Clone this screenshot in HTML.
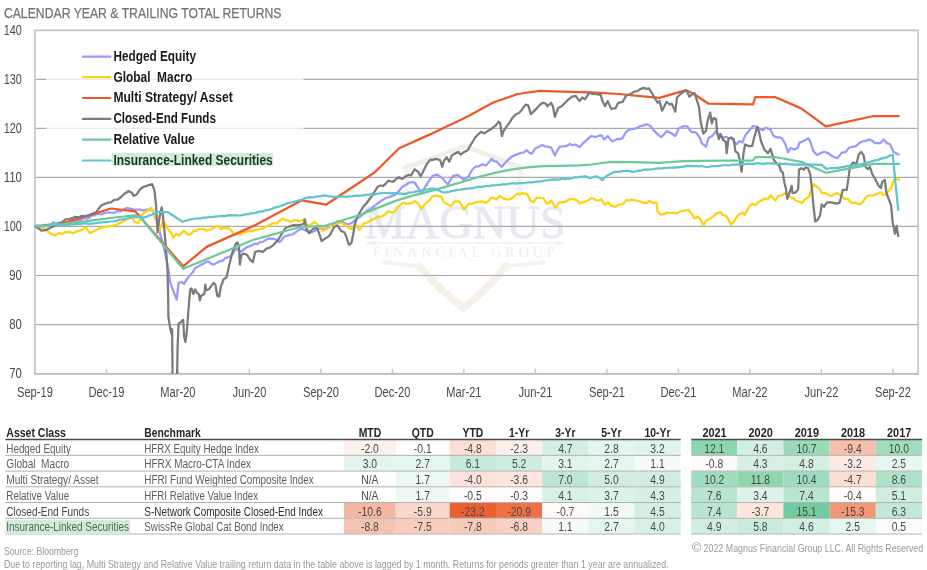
<!DOCTYPE html><html><head><meta charset="utf-8"><title>Calendar Year &amp; Trailing Total Returns</title><style>html,body{margin:0;padding:0;background:#fff;overflow:hidden}svg{display:block;filter:blur(0.3px)}text{font-family:"Liberation Sans",sans-serif}</style></head><body>
<svg width="927" height="570" viewBox="0 0 927 570">
<rect width="927" height="570" fill="#fff"/>
<text x="3.90" y="18.20" font-size="15" fill="#737373" stroke="#737373" stroke-width="0.25" textLength="277.60" lengthAdjust="spacingAndGlyphs">CALENDAR YEAR &amp; TRAILING TOTAL RETURNS</text>
<g opacity="1">
<g fill="none" stroke-linejoin="round" stroke-linecap="round"><path d="M405,168 L464.5,146.5 L521,167" stroke="#f2eee5" stroke-width="5"/><path d="M406,170 L406,192 M520,169 L520,194" stroke="#f6f3ec" stroke-width="5"/><path d="M419,266 Q440,290 463.5,308 Q487,290 506,266" stroke="#f5f1e9" stroke-width="7.5"/><path d="M383,262.5 L419,266 M506,266 L544,262.5" stroke="#f6f3ec" stroke-width="4"/></g>
<line x1="366" y1="243" x2="556" y2="243" stroke="#f3efe6" stroke-width="1.3"/><path d="M556,241 L565,243 L556,245 Z M375,241 L366,243 L375,245 Z" fill="#f4f0e8"/>
<text x="465" y="238" font-size="46" font-family="Liberation Serif" fill="#e7e9f1" text-anchor="middle" textLength="201" lengthAdjust="spacingAndGlyphs" stroke="#e7e9f1" stroke-width="0.8" style="font-family:'Liberation Serif',serif">MAGNUS</text>
<text x="463.7" y="257" font-size="14" fill="#eceef3" text-anchor="middle" textLength="182" lengthAdjust="spacing" style="font-family:'Liberation Serif',serif">FINANCIAL GROUP</text>
</g>
<line x1="34.7" y1="79.30" x2="918" y2="79.30" stroke="#ababab" stroke-width="1.2"/>
<line x1="34.7" y1="128.35" x2="918" y2="128.35" stroke="#ababab" stroke-width="1.2"/>
<line x1="34.7" y1="177.40" x2="918" y2="177.40" stroke="#ababab" stroke-width="1.2"/>
<line x1="34.7" y1="226.45" x2="918" y2="226.45" stroke="#ababab" stroke-width="1.2"/>
<line x1="34.7" y1="275.50" x2="918" y2="275.50" stroke="#ababab" stroke-width="1.2"/>
<line x1="34.7" y1="324.55" x2="918" y2="324.55" stroke="#ababab" stroke-width="1.2"/>
<path d="M34.9,373.9 L34.9,30.4 L918.1,30.4 L918.1,373.9" fill="none" stroke="#c4c4c4" stroke-width="1.6"/>
<line x1="34.1" y1="373.9" x2="918.9" y2="373.9" stroke="#b9b9b9" stroke-width="1.6"/>
<line x1="34.90" y1="368.8" x2="34.90" y2="373.5" stroke="#c4c4c4" stroke-width="1.4"/>
<line x1="106.40" y1="368.8" x2="106.40" y2="373.5" stroke="#c4c4c4" stroke-width="1.4"/>
<line x1="177.90" y1="368.8" x2="177.90" y2="373.5" stroke="#c4c4c4" stroke-width="1.4"/>
<line x1="249.40" y1="368.8" x2="249.40" y2="373.5" stroke="#c4c4c4" stroke-width="1.4"/>
<line x1="320.90" y1="368.8" x2="320.90" y2="373.5" stroke="#c4c4c4" stroke-width="1.4"/>
<line x1="392.40" y1="368.8" x2="392.40" y2="373.5" stroke="#c4c4c4" stroke-width="1.4"/>
<line x1="463.90" y1="368.8" x2="463.90" y2="373.5" stroke="#c4c4c4" stroke-width="1.4"/>
<line x1="535.40" y1="368.8" x2="535.40" y2="373.5" stroke="#c4c4c4" stroke-width="1.4"/>
<line x1="606.90" y1="368.8" x2="606.90" y2="373.5" stroke="#c4c4c4" stroke-width="1.4"/>
<line x1="678.40" y1="368.8" x2="678.40" y2="373.5" stroke="#c4c4c4" stroke-width="1.4"/>
<line x1="749.90" y1="368.8" x2="749.90" y2="373.5" stroke="#c4c4c4" stroke-width="1.4"/>
<line x1="821.40" y1="368.8" x2="821.40" y2="373.5" stroke="#c4c4c4" stroke-width="1.4"/>
<line x1="892.90" y1="368.8" x2="892.90" y2="373.5" stroke="#c4c4c4" stroke-width="1.4"/>
<clipPath id="pc"><rect x="34.7" y="30" width="884" height="344"/></clipPath>
<g clip-path="url(#pc)">
<polyline points="34.9,226.3 37.4,225.3 39.9,226.5 42.4,226.0 44.9,224.8 47.4,225.0 49.9,224.6 52.4,224.8 54.9,224.8 57.4,223.1 59.9,222.7 62.4,223.4 65.1,223.5 67.8,222.2 70.5,222.3 73.1,220.3 75.8,220.6 78.5,220.2 81.2,219.8 83.9,218.0 86.6,218.6 89.3,217.7 92.0,215.2 94.7,215.3 97.1,213.8 99.6,214.2 102.0,214.4 104.4,212.9 106.8,212.7 109.2,212.3 111.7,212.7 114.1,212.9 117.3,211.2 120.6,211.3 123.8,209.1 127.0,208.0 130.3,208.7 133.6,209.6 136.8,209.6 140.0,209.6 143.3,210.5 146.5,209.5 149.7,209.6 153.0,210.5 155.4,218.5 157.8,221.8 159.7,232.4 162.9,243.7 166.2,258.3 168.4,270.0 170.3,282.9 173.0,290.3 176.7,299.5 178.6,282.9 181.3,282.0 184.1,283.8 186.9,279.2 189.6,275.5 192.4,272.8 195.3,268.0 198.5,266.3 200.9,264.6 203.4,263.9 205.9,262.1 208.3,261.5 213.1,264.7 215.6,263.4 218.0,262.3 220.4,261.1 222.8,260.7 225.2,258.1 227.7,257.4 230.9,255.8 233.4,252.8 235.8,248.5 240.6,251.8 243.8,249.5 247.1,246.9 249.5,246.4 251.9,245.3 254.6,243.6 257.3,244.2 260.0,242.1 263.2,241.6 266.5,239.6 268.9,238.4 271.4,238.8 273.8,238.9 276.2,239.6 279.4,242.1 281.9,239.7 284.3,236.4 286.8,236.0 289.2,234.8 292.4,234.5 295.6,232.4 300.0,229.1 302.5,229.2 305.0,230.2 307.5,229.8 311.0,232.5 314.6,231.0 318.1,228.9 321.6,228.5 325.1,228.9 328.6,227.3 332.1,225.4 334.8,224.0 337.4,221.1 340.0,222.2 342.6,221.9 345.2,223.3 347.9,224.6 350.5,223.4 353.2,221.9 356.7,218.4 360.2,216.7 363.7,213.1 367.2,210.5 370.7,208.9 374.2,206.1 377.7,203.3 381.2,200.9 384.7,198.5 388.2,197.4 391.8,196.1 395.3,194.7 398.8,191.2 402.3,186.8 405.8,185.0 409.3,182.5 412.0,182.2 414.6,182.5 418.1,187.7 421.6,193.9 425.1,186.8 428.6,181.6 432.1,176.3 434.8,175.3 437.4,174.6 440.1,176.6 442.9,178.6 445.4,182.0 447.8,184.3 450.3,180.2 452.8,176.1 457.5,174.9 460.8,177.3 464.0,180.2 466.4,178.2 468.8,176.2 471.2,171.2 473.7,168.1 476.1,166.4 478.5,166.5 482.6,164.2 486.0,165.5 488.7,162.6 491.4,158.9 494.0,161.2 496.7,161.6 499.3,164.4 501.9,166.8 504.5,163.5 507.2,160.7 510.7,157.4 514.2,155.4 517.7,154.1 521.2,152.8 523.9,152.5 526.5,150.2 529.1,152.5 531.8,153.7 535.3,148.4 538.8,146.7 542.3,144.9 544.9,146.5 547.5,146.7 551.1,147.5 554.9,155.4 557.3,150.5 559.8,146.7 563.3,146.3 566.8,145.8 570.0,144.0 572.5,145.2 575.0,144.5 579.6,147.0 584.0,142.3 587.5,139.4 591.1,136.1 593.5,136.5 596.0,137.0 598.8,135.7 601.6,135.3 604.0,139.5 607.7,136.1 612.1,141.4 614.8,140.2 617.4,138.8 620.0,139.3 622.6,137.9 626.1,131.8 629.7,129.5 633.2,129.1 636.7,128.1 640.2,126.0 643.2,125.7 646.3,124.2 650.7,126.0 653.4,130.1 656.0,132.6 658.6,135.3 661.2,137.0 663.9,134.6 666.5,130.9 669.1,132.2 671.8,133.5 675.3,136.1 678.8,128.2 681.4,127.2 684.0,126.0 687.5,126.5 691.1,131.8 693.7,132.1 696.3,132.6 699.8,137.9 701.6,143.2 706.0,146.7 708.6,137.9 712.1,136.1 715.6,131.5 719.6,136.5 724.0,137.4 726.6,136.8 729.3,138.7 731.9,138.2 736.3,144.4 739.8,140.9 742.5,142.6 745.1,135.6 748.6,131.2 753.0,126.0 757.4,127.2 760.0,128.9 762.6,130.4 766.1,127.7 770.5,129.5 773.2,135.6 776.7,137.4 779.3,137.2 781.9,138.2 785.4,144.4 788.1,152.3 790.7,147.9 794.2,149.6 797.7,147.9 799.5,142.6 803.9,140.9 808.2,138.2 810.0,140.9 813.5,151.4 817.0,154.9 820.0,153.4 824.3,151.8 828.6,153.4 831.9,156.1 834.6,157.2 837.3,158.3 841.6,152.9 845.9,151.8 849.1,147.5 852.4,146.9 855.6,146.4 859.9,142.6 862.6,141.5 865.3,141.0 869.6,139.4 872.3,140.9 875.0,143.1 877.7,143.2 880.4,143.1 883.6,139.4 886.9,143.1 890.1,144.2 893.4,151.8 896.0,153.4 898.7,154.5" fill="none" stroke="#9999ff" stroke-width="2.25" stroke-linejoin="round" stroke-linecap="round"/>
<polyline points="34.9,226.3 37.6,227.8 40.3,228.3 43.0,228.0 47.8,231.5 51.0,233.9 55.1,235.5 59.1,233.1 62.4,233.9 64.8,232.2 67.2,232.3 69.7,231.9 72.1,233.1 74.5,232.8 76.9,231.2 79.3,231.0 81.8,229.9 85.8,227.4 89.9,233.1 94.7,230.7 97.2,229.8 99.6,228.3 102.8,227.1 106.0,226.6 109.2,226.4 112.5,225.8 115.8,224.8 119.0,223.4 121.5,222.4 123.9,221.0 128.7,218.5 131.9,216.9 134.4,221.8 138.4,223.4 141.7,215.3 144.1,212.6 146.5,211.3 148.9,209.5 151.4,208.0 153.0,212.1 156.5,219.4 159.7,230.7 162.9,221.0 165.4,224.3 167.8,229.1 171.0,232.4 173.5,238.0 175.9,234.0 179.1,235.6 181.6,232.9 184.0,230.7 186.4,233.2 188.8,234.8 191.2,233.7 193.7,230.7 196.1,230.8 198.5,229.1 200.9,229.0 203.4,228.8 206.6,230.7 209.1,229.8 211.5,229.1 214.8,227.0 218.0,225.9 221.2,229.1 223.6,227.8 226.0,228.3 228.4,228.2 230.9,229.9 234.1,234.3 237.3,234.1 240.6,234.0 243.8,232.4 247.1,231.6 249.8,230.8 252.5,231.3 255.2,229.9 257.9,229.4 260.6,229.0 263.3,228.3 266.5,226.2 269.7,225.1 272.9,223.3 276.2,223.5 279.4,221.0 282.7,218.6 285.9,220.2 288.4,220.7 290.8,221.8 294.0,220.2 297.0,220.1 300.0,221.4 304.0,219.3 305.8,223.7 309.3,225.4 312.0,223.7 314.6,221.9 318.0,225.0 322.5,230.7 326.8,228.9 329.5,227.7 332.1,224.6 335.6,224.0 339.1,222.8 342.6,223.5 346.1,225.4 348.8,227.9 351.4,228.9 355.8,224.6 359.3,229.8 363.7,223.7 367.2,222.5 370.7,220.2 374.2,218.9 377.7,216.7 381.2,216.6 384.7,214.9 388.2,211.4 390.9,212.4 393.5,212.3 396.1,209.8 398.8,206.1 401.4,204.1 404.0,202.6 406.5,204.0 409.0,203.5 411.8,203.1 414.6,200.9 418.0,203.5 421.6,208.8 424.2,205.0 426.8,202.6 429.5,200.1 432.1,196.5 436.0,195.6 438.6,196.4 441.3,196.4 443.8,202.1 447.8,204.5 451.0,206.1 454.3,201.7 456.7,201.4 459.1,201.3 461.6,205.4 464.0,209.4 466.4,206.5 468.8,203.7 472.1,203.9 475.3,202.4 478.6,201.9 481.8,201.3 485.8,202.9 488.6,200.9 491.5,197.5 493.9,198.3 496.3,199.6 499.6,195.9 504.4,198.8 507.7,199.6 510.9,198.8 514.1,196.4 517.4,193.7 519.8,194.2 522.2,193.2 524.7,193.5 527.1,194.0 530.3,200.5 533.6,202.1 536.8,197.5 540.0,197.9 543.3,198.0 546.5,203.7 549.0,202.9 551.4,200.5 555.4,207.7 559.4,202.4 562.6,202.3 565.9,201.3 568.3,200.0 570.8,198.8 574.9,199.3 577.3,200.8 579.7,203.4 582.2,202.4 584.6,202.1 587.8,200.6 591.0,198.3 593.5,198.5 595.9,200.1 598.8,200.5 601.6,199.2 604.8,205.0 608.0,202.1 610.5,205.3 615.3,206.9 617.8,205.2 620.2,204.5 623.4,203.7 626.6,200.1 629.0,200.7 631.5,199.6 636.3,200.5 638.8,200.9 641.2,202.1 644.4,202.9 646.8,202.8 649.3,200.8 652.5,202.9 656.6,202.4 657.4,211.0 660.6,214.7 663.9,214.2 667.1,212.6 670.4,213.0 673.6,212.6 676.8,213.4 680.0,211.5 682.5,211.0 684.9,210.5 688.1,209.8 691.4,213.4 694.6,218.3 697.8,216.6 700.3,219.1 703.5,225.5 705.9,220.7 708.3,219.5 710.8,218.3 713.6,216.2 716.5,213.4 720.5,212.1 722.9,215.0 726.2,215.8 727.8,218.3 731.0,224.7 734.3,220.7 738.3,215.0 742.4,212.6 744.8,215.0 748.8,206.9 752.1,203.7 755.3,205.3 758.5,202.1 761.0,200.8 763.4,199.2 765.8,198.6 768.3,198.8 770.7,195.3 773.0,198.0 775.5,200.5 778.0,196.4 782.8,194.8 785.2,193.2 787.7,195.6 790.9,197.2 793.3,198.3 795.8,200.5 799.0,201.7 802.2,202.9 805.5,198.8 808.7,197.2 811.1,190.7 813.6,184.3 816.8,186.7 820.0,189.1 821.7,193.2 825.7,193.2 829.7,195.6 832.2,195.7 834.6,194.0 837.8,193.2 841.1,195.6 844.3,198.8 847.5,198.8 850.8,202.4 853.2,202.9 855.6,202.9 859.5,204.5 862.7,202.1 865.8,197.4 868.2,195.6 870.6,195.5 873.8,195.3 876.9,193.9 880.8,192.3 883.2,195.0 885.6,195.0 887.9,191.9 891.1,187.9 893.5,180.8 895.8,177.6 899.0,180.0" fill="none" stroke="#ffd20f" stroke-width="2.25" stroke-linejoin="round" stroke-linecap="round"/>
<polyline points="34.9,226.3 62.4,223.4 94.7,213.7 110.9,208.5 135.2,211.3 183.2,266.3 206.6,246.9 253.6,225.9 301.9,200.3 326.0,204.7 374.2,172.8 399.2,148.2 430.0,134.4 468.6,116.0 493.2,102.5 517.7,94.0 539.6,90.9 570.0,91.9 591.1,92.3 619.1,94.0 640.2,96.1 659.5,97.9 685.8,90.2 692.8,93.2 708.6,103.7 753.0,104.4 755.3,97.0 774.9,97.0 801.2,108.4 825.8,126.3 873.9,116.0 898.7,116.0" fill="none" stroke="#ee5827" stroke-width="2.25" stroke-linejoin="round" stroke-linecap="round"/>
<polyline points="34.9,226.3 38.1,228.0 41.3,230.7 43.8,230.4 46.2,229.9 51.0,227.4 54.2,225.9 57.5,225.0 60.0,223.6 62.4,221.8 65.6,219.4 68.8,219.1 72.1,218.2 75.3,216.9 78.5,217.4 81.8,215.8 85.0,216.1 88.2,215.7 91.5,214.0 96.3,212.1 98.8,208.4 101.2,205.6 104.4,204.0 107.7,202.7 110.9,202.4 114.1,199.9 117.3,199.7 120.6,197.5 123.9,194.3 128.7,191.0 131.9,192.7 133.6,195.9 136.8,194.3 140.0,189.4 143.3,187.0 148.1,185.4 152.2,184.2 154.6,191.0 156.2,207.2 157.5,232.4 159.7,216.2 161.7,207.3 163.0,216.2 164.6,232.4 166.2,251.8 167.5,270.0 168.1,294.0 168.4,317.0 170.3,329.0 171.7,334.5 172.1,329.0 172.6,379.0 177.0,379.0 177.6,347.4 178.6,323.4 180.4,322.5 182.2,320.7 183.2,319.8 184.1,336.3 185.4,341.9 186.9,330.8 188.7,306.9 190.2,289.3 191.5,288.4 193.3,294.0 195.1,289.3 197.0,293.0 198.8,294.0 199.8,300.4 201.2,295.8 204.4,294.0 205.3,284.7 206.2,290.3 209.0,289.3 210.8,286.6 213.6,282.9 215.4,284.7 217.3,295.8 219.1,296.7 220.9,286.6 223.7,279.2 226.5,277.4 229.3,264.7 232.5,251.8 235.8,243.7 237.4,242.4 239.0,246.9 239.8,264.7 241.4,255.0 243.9,253.4 247.1,255.0 250.3,259.9 252.8,262.3 255.2,251.8 258.4,251.0 260.9,251.3 263.3,251.8 266.5,248.5 269.8,247.6 273.0,245.3 275.4,242.9 277.8,240.5 281.1,234.8 285.9,227.5 288.4,227.0 290.8,225.9 293.9,225.0 297.0,225.4 300.5,224.8 304.0,223.7 304.9,219.3 306.7,230.7 309.3,233.3 312.8,228.9 316.3,227.2 318.9,232.5 321.6,241.2 325.1,238.6 327.8,237.1 330.4,234.2 333.9,227.2 337.4,225.4 340.9,230.7 344.4,232.5 346.1,236.0 348.8,244.7 351.4,243.0 353.2,234.2 354.9,223.7 358.4,214.9 361.0,210.5 363.7,206.1 366.3,203.5 368.9,200.0 371.5,196.4 374.2,192.1 377.7,186.8 380.4,185.5 383.0,186.0 385.6,183.9 388.2,180.7 390.9,181.3 393.5,181.6 396.1,179.0 398.8,177.2 402.3,178.9 405.8,176.3 408.5,174.9 411.1,175.4 414.6,169.3 418.1,171.9 420.7,176.3 424.2,169.3 426.8,164.0 430.4,159.6 433.0,159.9 435.6,158.8 440.0,160.0 442.3,166.8 444.0,160.7 446.7,157.2 449.3,161.6 451.9,155.4 454.6,153.7 458.1,151.9 460.7,154.6 464.2,151.9 467.7,150.2 471.2,144.0 475.6,137.0 478.2,134.3 480.9,131.8 484.4,133.5 487.9,130.9 490.5,129.6 493.2,127.4 495.8,125.4 498.4,121.8 500.2,123.0 501.9,136.1 503.7,130.9 507.2,125.6 509.9,122.1 512.5,117.7 516.0,114.2 518.6,113.3 521.2,110.7 525.6,104.6 528.2,105.4 530.9,114.2 533.5,111.6 537.0,108.1 539.6,105.2 542.3,102.8 545.8,103.7 547.5,106.3 551.1,102.8 552.9,106.3 554.9,116.8 558.1,108.1 561.6,106.3 565.1,102.8 568.6,99.3 572.1,96.7 575.6,95.8 579.6,101.1 582.3,97.5 584.9,99.3 589.3,92.6 592.0,93.9 594.6,94.0 597.7,94.3 600.7,94.9 602.5,101.1 605.1,106.3 607.7,101.1 611.2,108.9 615.6,108.1 618.2,102.8 622.6,101.9 626.1,95.8 630.5,94.0 634.9,91.4 637.5,91.1 640.2,89.1 643.7,87.9 646.3,88.9 648.9,88.4 652.5,94.0 656.0,100.2 657.7,102.8 659.5,100.9 662.1,110.7 666.5,101.9 670.0,104.6 671.8,103.7 675.3,111.6 677.0,97.5 680.5,94.0 684.0,91.4 686.7,90.5 689.3,96.7 692.8,94.0 694.6,93.2 696.3,98.4 699.0,107.2 700.7,122.1 703.3,133.5 706.0,130.9 707.7,120.4 710.2,112.6 711.8,123.3 713.5,118.1 716.1,119.0 717.0,131.2 718.8,139.1 720.5,133.9 723.2,140.0 725.8,141.8 726.7,153.2 728.4,139.1 731.1,137.4 733.7,139.1 735.4,151.4 738.1,153.2 739.8,160.2 741.6,171.6 743.3,154.9 745.1,144.4 748.6,146.1 752.1,146.1 754.7,135.6 757.4,126.8 759.1,132.1 760.9,140.9 764.4,149.6 767.9,153.2 770.5,148.8 772.3,154.9 774.0,160.2 776.7,163.7 779.3,165.4 781.2,171.3 782.8,172.5 784.4,182.7 786.0,189.1 787.3,198.8 789.3,193.2 791.7,185.9 792.5,193.2 795.8,192.4 798.2,189.1 799.0,169.7 801.4,168.1 803.9,169.7 805.5,167.3 808.0,168.0 810.3,174.6 811.9,189.1 813.6,206.9 815.2,221.5 817.6,219.9 820.0,215.8 821.7,204.5 824.1,206.9 826.5,202.9 829.7,202.1 833.0,202.9 836.2,203.7 839.4,202.9 841.1,197.2 842.7,189.9 846.7,189.9 848.3,179.4 850.0,166.5 853.2,162.4 856.3,164.2 858.7,154.7 861.1,151.9 863.4,154.7 865.8,167.4 868.2,169.0 870.0,167.0 872.1,173.7 875.3,179.2 878.5,185.5 880.8,187.9 882.4,181.6 884.8,180.0 886.4,192.7 888.7,199.0 891.1,205.3 892.7,222.7 895.0,233.7 896.6,225.8 898.2,236.1" fill="none" stroke="#7b7b7b" stroke-width="2.25" stroke-linejoin="round" stroke-linecap="round"/>
<polyline points="34.9,226.3 62.4,224.2 94.7,220.2 119.0,217.0 135.2,215.3 140.0,217.0 183.2,268.8 253.0,240.0 300.0,227.0 325.1,225.8 342.6,220.2 360.2,214.9 377.7,207.9 395.3,200.9 412.8,195.6 430.4,191.2 446.2,186.7 462.4,181.8 478.5,177.0 494.7,172.9 510.9,169.7 527.1,167.3 543.3,166.1 559.4,165.8 580.0,165.3 591.0,164.5 610.5,161.9 634.7,162.1 659.0,162.8 684.0,161.1 720.0,160.6 753.0,160.5 755.3,157.0 774.9,157.0 801.2,161.9 825.8,172.8 851.6,168.2 873.7,163.9 899.0,163.9" fill="none" stroke="#6cc99a" stroke-width="2.25" stroke-linejoin="round" stroke-linecap="round"/>
<polyline points="34.9,226.3 37.3,226.1 39.7,226.0 42.1,226.2 44.6,226.0 47.0,226.0 49.4,226.3 53.5,222.1 57.5,225.0 60.1,224.8 62.8,225.1 65.4,224.9 68.0,224.8 70.6,224.3 73.2,224.4 75.9,224.1 78.5,224.2 81.0,223.8 83.5,223.5 86.1,223.4 88.6,223.8 91.1,223.6 93.6,223.4 96.2,223.2 98.7,222.5 101.2,222.6 103.6,222.2 106.1,222.2 108.5,222.0 110.9,221.5 113.6,221.3 116.3,220.8 119.0,219.7 121.6,219.6 124.3,219.1 127.0,218.5 129.7,218.0 132.5,217.2 135.2,217.0 137.9,217.2 140.6,217.1 143.3,217.7 146.5,216.8 149.7,215.3 152.5,214.5 155.3,213.2 158.1,212.1 160.5,211.9 162.9,212.4 165.4,212.2 167.8,212.1 171.1,214.5 174.3,216.2 177.0,218.3 179.7,219.9 182.4,221.8 185.1,220.9 187.8,220.3 190.5,219.4 193.2,219.0 195.9,218.5 198.6,218.3 201.2,218.4 203.9,217.5 206.6,217.5 209.2,216.9 211.9,217.1 214.5,216.5 217.1,216.5 219.8,216.2 222.4,215.8 225.1,216.1 227.7,215.4 230.3,215.2 232.9,215.3 235.4,215.2 238.0,215.5 240.6,215.4 243.1,214.8 245.6,214.4 248.2,214.2 250.7,213.4 253.2,213.2 255.7,213.0 258.3,211.9 260.8,211.4 263.3,211.3 266.0,210.3 268.7,209.9 271.4,209.0 274.0,207.9 276.7,207.2 279.4,206.5 282.0,205.3 284.7,204.5 287.4,203.2 290.0,202.6 292.5,202.1 295.0,201.5 297.5,200.9 300.0,200.0 302.5,199.5 305.0,198.0 307.5,197.7 310.0,197.2 312.5,197.4 315.0,196.9 317.6,196.3 320.1,196.3 322.6,195.7 325.1,195.3 328.0,196.1 331.0,196.3 333.9,197.0 336.4,196.7 338.9,196.8 341.4,196.5 343.9,196.6 346.4,197.0 348.9,196.4 351.4,196.5 353.9,195.9 356.4,195.6 358.9,195.5 361.5,195.7 364.0,195.1 366.5,194.8 369.0,194.7 371.5,194.1 374.0,194.6 376.5,193.9 379.0,193.5 381.5,193.1 384.0,192.9 386.5,193.0 389.0,192.9 391.5,193.4 394.0,193.1 396.5,193.1 399.0,193.6 401.5,193.6 404.0,193.9 406.5,193.8 409.0,192.6 411.5,192.4 414.1,192.1 416.6,191.3 419.1,191.3 421.6,190.4 424.1,190.0 426.5,189.5 429.0,189.2 431.4,188.6 433.9,188.6 436.9,189.8 439.9,190.9 442.9,192.4 445.8,192.3 448.6,191.8 451.4,191.1 454.3,190.7 457.0,189.9 459.7,189.7 462.4,189.3 465.1,188.9 467.8,188.5 470.5,188.3 473.2,188.2 475.9,187.2 478.6,186.7 481.2,187.0 483.9,186.4 486.6,185.9 489.3,186.0 492.0,185.3 494.7,185.4 497.4,185.0 500.1,184.8 502.8,184.3 505.5,184.3 508.2,183.9 510.9,183.4 513.6,183.3 516.3,183.6 519.0,183.1 521.7,183.2 524.4,183.0 527.1,182.3 529.8,182.4 532.5,182.3 535.2,181.8 537.9,181.6 540.6,181.4 543.3,180.8 546.0,180.5 548.7,180.2 551.4,179.7 554.1,179.3 556.8,179.7 559.5,179.5 562.1,178.6 564.8,179.2 567.5,178.6 570.1,178.6 572.6,178.0 575.2,177.2 577.7,177.5 580.3,176.6 582.8,176.9 585.4,176.2 589.4,178.1 592.6,177.3 595.9,176.2 599.1,177.8 602.4,180.2 604.8,177.5 607.2,175.4 610.5,173.9 613.7,172.1 616.1,171.9 618.5,171.7 621.0,171.6 623.4,171.0 626.2,170.9 629.0,171.0 631.9,171.9 634.7,171.7 637.4,170.7 640.1,170.9 642.8,170.0 645.5,169.4 648.2,169.7 650.9,169.4 653.6,169.2 656.3,168.7 659.0,168.4 661.7,168.5 664.4,167.8 667.1,168.0 669.8,167.5 672.5,167.8 675.2,167.3 677.9,167.3 680.6,166.9 683.3,166.7 686.0,166.1 688.7,165.9 691.4,166.1 693.8,166.2 696.2,166.0 698.7,166.3 701.1,166.0 705.9,167.0 708.7,166.8 711.5,166.2 714.4,166.1 717.2,166.2 720.0,165.7 722.5,165.5 725.0,165.0 727.5,165.5 730.0,165.3 732.5,164.5 735.1,164.7 737.6,164.4 740.1,164.6 742.6,164.0 745.1,164.0 747.7,163.7 750.4,163.8 753.0,164.2 755.6,163.4 758.2,163.3 760.9,163.7 763.5,163.8 766.1,163.4 768.8,163.3 771.4,163.3 774.0,163.7 776.7,163.8 779.3,163.3 781.9,164.1 784.5,163.7 787.2,163.9 789.8,164.5 792.4,164.3 795.1,164.7 797.7,164.6 800.3,164.3 803.0,164.9 805.6,164.3 808.2,164.3 810.9,164.6 813.5,164.5 816.1,164.6 818.8,164.9 821.4,164.6 824.0,167.0 826.5,169.0 829.0,168.3 831.5,168.2 834.0,168.1 836.6,167.8 839.1,167.7 841.6,167.2 844.1,166.8 846.6,166.2 849.1,165.9 851.6,165.8 854.2,165.5 856.9,164.6 859.5,164.4 862.1,164.1 864.8,163.2 867.4,162.6 870.0,162.0 872.7,161.2 875.3,160.3 877.9,160.0 880.6,158.9 883.2,158.2 886.4,157.4 889.5,155.7 892.7,154.7 898.2,210.0" fill="none" stroke="#5fc4cc" stroke-width="2.25" stroke-linejoin="round" stroke-linecap="round"/>
</g>
<rect x="46.2" y="40" width="257.3" height="131" fill="#fff" fill-opacity="0.75"/>
<rect x="111.8" y="153.1" width="161.4" height="12.6" fill="#d2ecdb"/>
<line x1="83" y1="56.7" x2="110.4" y2="56.7" stroke="#9999ff" stroke-width="2.2" stroke-linecap="round"/>
<text x="113.40" y="61.00" font-size="14" font-weight="bold" fill="#1a1a1a" textLength="82.60" lengthAdjust="spacingAndGlyphs">Hedged Equity</text>
<line x1="83" y1="77.2" x2="110.4" y2="77.2" stroke="#ffd20f" stroke-width="2.2" stroke-linecap="round"/>
<text x="113.40" y="81.50" font-size="14" font-weight="bold" fill="#1a1a1a" textLength="78.80" lengthAdjust="spacingAndGlyphs">Global &#160;Macro</text>
<line x1="83" y1="98" x2="110.4" y2="98" stroke="#ee5827" stroke-width="2.2" stroke-linecap="round"/>
<text x="113.40" y="102.30" font-size="14" font-weight="bold" fill="#1a1a1a" textLength="119.30" lengthAdjust="spacingAndGlyphs">Multi Strategy/ Asset</text>
<line x1="83" y1="118.9" x2="110.4" y2="118.9" stroke="#7b7b7b" stroke-width="2.2" stroke-linecap="round"/>
<text x="113.40" y="123.20" font-size="14" font-weight="bold" fill="#1a1a1a" textLength="102.50" lengthAdjust="spacingAndGlyphs">Closed-End Funds</text>
<line x1="83" y1="139.6" x2="110.4" y2="139.6" stroke="#6cc99a" stroke-width="2.2" stroke-linecap="round"/>
<text x="113.40" y="143.90" font-size="14" font-weight="bold" fill="#1a1a1a" textLength="81.40" lengthAdjust="spacingAndGlyphs">Relative Value</text>
<line x1="83" y1="160.5" x2="110.4" y2="160.5" stroke="#5fc4cc" stroke-width="2.2" stroke-linecap="round"/>
<text x="113.40" y="164.80" font-size="14" font-weight="bold" fill="#1e3327" textLength="159.30" lengthAdjust="spacingAndGlyphs">Insurance-Linked Securities</text>
<text x="21.90" y="35.05" font-size="14" fill="#4a4a4a" text-anchor="end" textLength="18.20" lengthAdjust="spacingAndGlyphs">140</text>
<text x="21.90" y="84.10" font-size="14" fill="#4a4a4a" text-anchor="end" textLength="18.20" lengthAdjust="spacingAndGlyphs">130</text>
<text x="21.90" y="133.15" font-size="14" fill="#4a4a4a" text-anchor="end" textLength="18.20" lengthAdjust="spacingAndGlyphs">120</text>
<text x="21.90" y="182.20" font-size="14" fill="#4a4a4a" text-anchor="end" textLength="18.20" lengthAdjust="spacingAndGlyphs">110</text>
<text x="21.90" y="231.25" font-size="14" fill="#4a4a4a" text-anchor="end" textLength="18.20" lengthAdjust="spacingAndGlyphs">100</text>
<text x="21.90" y="280.30" font-size="14" fill="#4a4a4a" text-anchor="end" textLength="12.60" lengthAdjust="spacingAndGlyphs">90</text>
<text x="21.90" y="329.35" font-size="14" fill="#4a4a4a" text-anchor="end" textLength="12.60" lengthAdjust="spacingAndGlyphs">80</text>
<text x="21.90" y="378.40" font-size="14" fill="#4a4a4a" text-anchor="end" textLength="12.60" lengthAdjust="spacingAndGlyphs">70</text>
<text x="34.90" y="396.80" font-size="14" fill="#4a4a4a" text-anchor="middle" textLength="35.89" lengthAdjust="spacingAndGlyphs">Sep-19</text>
<text x="106.40" y="396.80" font-size="14" fill="#4a4a4a" text-anchor="middle" textLength="35.88" lengthAdjust="spacingAndGlyphs">Dec-19</text>
<text x="177.90" y="396.80" font-size="14" fill="#4a4a4a" text-anchor="middle" textLength="35.25" lengthAdjust="spacingAndGlyphs">Mar-20</text>
<text x="249.40" y="396.80" font-size="14" fill="#4a4a4a" text-anchor="middle" textLength="34.03" lengthAdjust="spacingAndGlyphs">Jun-20</text>
<text x="320.90" y="396.80" font-size="14" fill="#4a4a4a" text-anchor="middle" textLength="35.89" lengthAdjust="spacingAndGlyphs">Sep-20</text>
<text x="392.40" y="396.80" font-size="14" fill="#4a4a4a" text-anchor="middle" textLength="35.88" lengthAdjust="spacingAndGlyphs">Dec-20</text>
<text x="463.90" y="396.80" font-size="14" fill="#4a4a4a" text-anchor="middle" textLength="35.25" lengthAdjust="spacingAndGlyphs">Mar-21</text>
<text x="535.40" y="396.80" font-size="14" fill="#4a4a4a" text-anchor="middle" textLength="34.03" lengthAdjust="spacingAndGlyphs">Jun-21</text>
<text x="606.90" y="396.80" font-size="14" fill="#4a4a4a" text-anchor="middle" textLength="35.89" lengthAdjust="spacingAndGlyphs">Sep-21</text>
<text x="678.40" y="396.80" font-size="14" fill="#4a4a4a" text-anchor="middle" textLength="35.88" lengthAdjust="spacingAndGlyphs">Dec-21</text>
<text x="749.90" y="396.80" font-size="14" fill="#4a4a4a" text-anchor="middle" textLength="35.25" lengthAdjust="spacingAndGlyphs">Mar-22</text>
<text x="821.40" y="396.80" font-size="14" fill="#4a4a4a" text-anchor="middle" textLength="34.03" lengthAdjust="spacingAndGlyphs">Jun-22</text>
<text x="892.90" y="396.80" font-size="14" fill="#4a4a4a" text-anchor="middle" textLength="35.89" lengthAdjust="spacingAndGlyphs">Sep-22</text>
<text x="6.30" y="436.70" font-size="12" font-weight="bold" fill="#262626" textLength="59.60" lengthAdjust="spacingAndGlyphs">Asset Class</text>
<text x="144.30" y="436.70" font-size="12" font-weight="bold" fill="#262626" textLength="56.40" lengthAdjust="spacingAndGlyphs">Benchmark</text>
<text x="369.90" y="436.70" font-size="12" font-weight="bold" fill="#262626" text-anchor="middle" textLength="22.51" lengthAdjust="spacingAndGlyphs">MTD</text>
<text x="422.75" y="436.70" font-size="12" font-weight="bold" fill="#262626" text-anchor="middle" textLength="21.94" lengthAdjust="spacingAndGlyphs">QTD</text>
<text x="472.85" y="436.70" font-size="12" font-weight="bold" fill="#262626" text-anchor="middle" textLength="20.78" lengthAdjust="spacingAndGlyphs">YTD</text>
<text x="519.10" y="436.70" font-size="12" font-weight="bold" fill="#262626" text-anchor="middle" textLength="20.22" lengthAdjust="spacingAndGlyphs">1-Yr</text>
<text x="565.40" y="436.70" font-size="12" font-weight="bold" fill="#262626" text-anchor="middle" textLength="20.22" lengthAdjust="spacingAndGlyphs">3-Yr</text>
<text x="611.45" y="436.70" font-size="12" font-weight="bold" fill="#262626" text-anchor="middle" textLength="20.22" lengthAdjust="spacingAndGlyphs">5-Yr</text>
<text x="657.50" y="436.70" font-size="12" font-weight="bold" fill="#262626" text-anchor="middle" textLength="26.00" lengthAdjust="spacingAndGlyphs">10-Yr</text>
<text x="714.55" y="436.70" font-size="12" font-weight="bold" fill="#262626" text-anchor="middle" textLength="24.29" lengthAdjust="spacingAndGlyphs">2021</text>
<text x="760.65" y="436.70" font-size="12" font-weight="bold" fill="#262626" text-anchor="middle" textLength="24.29" lengthAdjust="spacingAndGlyphs">2020</text>
<text x="806.85" y="436.70" font-size="12" font-weight="bold" fill="#262626" text-anchor="middle" textLength="24.29" lengthAdjust="spacingAndGlyphs">2019</text>
<text x="853.05" y="436.70" font-size="12" font-weight="bold" fill="#262626" text-anchor="middle" textLength="24.29" lengthAdjust="spacingAndGlyphs">2018</text>
<text x="899.20" y="436.70" font-size="12" font-weight="bold" fill="#262626" text-anchor="middle" textLength="24.29" lengthAdjust="spacingAndGlyphs">2017</text>
<rect x="344.0" y="439.80" width="51.8" height="15.25" fill="#fdf1ed"/>
<rect x="395.8" y="439.80" width="53.9" height="15.25" fill="#fffefe"/>
<rect x="449.7" y="439.80" width="46.3" height="15.25" fill="#fbded5"/>
<rect x="496.0" y="439.80" width="46.2" height="15.25" fill="#fdefeb"/>
<rect x="542.2" y="439.80" width="46.4" height="15.25" fill="#d2efe1"/>
<rect x="588.6" y="439.80" width="45.7" height="15.25" fill="#e4f6ed"/>
<rect x="634.3" y="439.80" width="46.4" height="15.25" fill="#e1f4ea"/>
<rect x="691.2" y="439.80" width="46.1" height="15.25" fill="#8cd6b1"/>
<rect x="737.3" y="439.80" width="46.1" height="15.25" fill="#d3efe1"/>
<rect x="783.4" y="439.80" width="46.3" height="15.25" fill="#9adbba"/>
<rect x="829.7" y="439.80" width="46.1" height="15.25" fill="#f7bfac"/>
<rect x="875.8" y="439.80" width="46.2" height="15.25" fill="#a0ddbf"/>
<rect x="344.0" y="455.65" width="51.8" height="15.13" fill="#e3f5ec"/>
<rect x="395.8" y="455.65" width="53.9" height="15.13" fill="#e5f6ee"/>
<rect x="449.7" y="455.65" width="46.3" height="15.13" fill="#c5ead8"/>
<rect x="496.0" y="455.65" width="46.2" height="15.13" fill="#ceedde"/>
<rect x="542.2" y="455.65" width="46.4" height="15.13" fill="#e2f5eb"/>
<rect x="588.6" y="455.65" width="45.7" height="15.13" fill="#e5f6ee"/>
<rect x="634.3" y="455.65" width="46.4" height="15.13" fill="#f5fbf8"/>
<rect x="691.2" y="455.65" width="46.1" height="15.13" fill="#fefaf8"/>
<rect x="737.3" y="455.65" width="46.1" height="15.13" fill="#d6f0e3"/>
<rect x="783.4" y="455.65" width="46.3" height="15.13" fill="#d2efe0"/>
<rect x="829.7" y="455.65" width="46.1" height="15.13" fill="#fce9e3"/>
<rect x="875.8" y="455.65" width="46.2" height="15.13" fill="#e7f7ef"/>
<rect x="395.8" y="471.38" width="53.9" height="15.13" fill="#eff9f4"/>
<rect x="449.7" y="471.38" width="46.3" height="15.13" fill="#fce4dc"/>
<rect x="496.0" y="471.38" width="46.2" height="15.13" fill="#fce6df"/>
<rect x="542.2" y="471.38" width="46.4" height="15.13" fill="#bde7d2"/>
<rect x="588.6" y="471.38" width="45.7" height="15.13" fill="#d0eedf"/>
<rect x="634.3" y="471.38" width="46.4" height="15.13" fill="#d1eee0"/>
<rect x="691.2" y="471.38" width="46.1" height="15.13" fill="#9eddbd"/>
<rect x="737.3" y="471.38" width="46.1" height="15.13" fill="#8fd7b3"/>
<rect x="783.4" y="471.38" width="46.3" height="15.13" fill="#9ddcbc"/>
<rect x="829.7" y="471.38" width="46.1" height="15.13" fill="#fbdfd5"/>
<rect x="875.8" y="471.38" width="46.2" height="15.13" fill="#aee2c8"/>
<rect x="395.8" y="487.11" width="53.9" height="15.13" fill="#eff9f4"/>
<rect x="449.7" y="487.11" width="46.3" height="15.13" fill="#fffcfb"/>
<rect x="496.0" y="487.11" width="46.2" height="15.13" fill="#fffdfc"/>
<rect x="542.2" y="487.11" width="46.4" height="15.13" fill="#d8f1e5"/>
<rect x="588.6" y="487.11" width="45.7" height="15.13" fill="#dcf3e7"/>
<rect x="634.3" y="487.11" width="46.4" height="15.13" fill="#d6f0e3"/>
<rect x="691.2" y="487.11" width="46.1" height="15.13" fill="#b7e5ce"/>
<rect x="737.3" y="487.11" width="46.1" height="15.13" fill="#dff4e9"/>
<rect x="783.4" y="487.11" width="46.3" height="15.13" fill="#b9e6cf"/>
<rect x="829.7" y="487.11" width="46.1" height="15.13" fill="#fffcfb"/>
<rect x="875.8" y="487.11" width="46.2" height="15.13" fill="#cfeede"/>
<rect x="344.0" y="502.84" width="51.8" height="15.13" fill="#f6b6a1"/>
<rect x="395.8" y="502.84" width="53.9" height="15.13" fill="#fad7cb"/>
<rect x="449.7" y="502.84" width="46.3" height="15.13" fill="#eb6032"/>
<rect x="496.0" y="502.84" width="46.2" height="15.13" fill="#ed7046"/>
<rect x="542.2" y="502.84" width="46.4" height="15.13" fill="#fefaf9"/>
<rect x="588.6" y="502.84" width="45.7" height="15.13" fill="#f1faf5"/>
<rect x="634.3" y="502.84" width="46.4" height="15.13" fill="#d4f0e2"/>
<rect x="691.2" y="502.84" width="46.1" height="15.13" fill="#b9e6cf"/>
<rect x="737.3" y="502.84" width="46.1" height="15.13" fill="#fce6de"/>
<rect x="783.4" y="502.84" width="46.3" height="15.13" fill="#70cc9e"/>
<rect x="829.7" y="502.84" width="46.1" height="15.13" fill="#f29678"/>
<rect x="875.8" y="502.84" width="46.2" height="15.13" fill="#c3ead7"/>
<rect x="344.0" y="518.57" width="51.8" height="15.13" fill="#f7c3b1"/>
<rect x="395.8" y="518.57" width="53.9" height="15.13" fill="#f9ccbd"/>
<rect x="449.7" y="518.57" width="46.3" height="15.13" fill="#f8caba"/>
<rect x="496.0" y="518.57" width="46.2" height="15.13" fill="#f9d0c3"/>
<rect x="542.2" y="518.57" width="46.4" height="15.13" fill="#f5fbf8"/>
<rect x="588.6" y="518.57" width="45.7" height="15.13" fill="#e5f6ee"/>
<rect x="634.3" y="518.57" width="46.4" height="15.13" fill="#d9f1e5"/>
<rect x="691.2" y="518.57" width="46.1" height="15.13" fill="#d1eee0"/>
<rect x="737.3" y="518.57" width="46.1" height="15.13" fill="#c8ebda"/>
<rect x="783.4" y="518.57" width="46.3" height="15.13" fill="#d3efe1"/>
<rect x="829.7" y="518.57" width="46.1" height="15.13" fill="#e7f7ef"/>
<rect x="875.8" y="518.57" width="46.2" height="15.13" fill="#fafdfc"/>
<text x="6.30" y="452.60" font-size="12.5" fill="#5e5e5e" textLength="64.60" lengthAdjust="spacingAndGlyphs">Hedged Equity</text>
<text x="144.30" y="452.60" font-size="12.5" fill="#5e5e5e" textLength="114.50" lengthAdjust="spacingAndGlyphs">HFRX Equity Hedge Index</text>
<text x="369.90" y="452.60" font-size="12.5" fill="#4a4a4a" text-anchor="middle" textLength="17.88" lengthAdjust="spacingAndGlyphs">-2.0</text>
<text x="422.75" y="452.60" font-size="12.5" fill="#4a4a4a" text-anchor="middle" textLength="17.88" lengthAdjust="spacingAndGlyphs">-0.1</text>
<text x="472.85" y="452.60" font-size="12.5" fill="#4a4a4a" text-anchor="middle" textLength="17.88" lengthAdjust="spacingAndGlyphs">-4.8</text>
<text x="519.10" y="452.60" font-size="12.5" fill="#4a4a4a" text-anchor="middle" textLength="17.88" lengthAdjust="spacingAndGlyphs">-2.3</text>
<text x="565.40" y="452.60" font-size="12.5" fill="#4a4a4a" text-anchor="middle" textLength="14.42" lengthAdjust="spacingAndGlyphs">4.7</text>
<text x="611.45" y="452.60" font-size="12.5" fill="#4a4a4a" text-anchor="middle" textLength="14.42" lengthAdjust="spacingAndGlyphs">2.8</text>
<text x="657.50" y="452.60" font-size="12.5" fill="#4a4a4a" text-anchor="middle" textLength="14.42" lengthAdjust="spacingAndGlyphs">3.2</text>
<text x="714.25" y="452.60" font-size="12.5" fill="#4a4a4a" text-anchor="middle" textLength="20.19" lengthAdjust="spacingAndGlyphs">12.1</text>
<text x="760.35" y="452.60" font-size="12.5" fill="#4a4a4a" text-anchor="middle" textLength="14.42" lengthAdjust="spacingAndGlyphs">4.6</text>
<text x="806.55" y="452.60" font-size="12.5" fill="#4a4a4a" text-anchor="middle" textLength="20.19" lengthAdjust="spacingAndGlyphs">10.7</text>
<text x="852.75" y="452.60" font-size="12.5" fill="#4a4a4a" text-anchor="middle" textLength="17.88" lengthAdjust="spacingAndGlyphs">-9.4</text>
<text x="898.90" y="452.60" font-size="12.5" fill="#4a4a4a" text-anchor="middle" textLength="20.19" lengthAdjust="spacingAndGlyphs">10.0</text>
<text x="6.30" y="468.35" font-size="12.5" fill="#5e5e5e" textLength="62.90" lengthAdjust="spacingAndGlyphs">Global &#160;Macro</text>
<text x="144.30" y="468.35" font-size="12.5" fill="#5e5e5e" textLength="106.60" lengthAdjust="spacingAndGlyphs">HFRX Macro-CTA Index</text>
<text x="369.90" y="468.35" font-size="12.5" fill="#4a4a4a" text-anchor="middle" textLength="14.42" lengthAdjust="spacingAndGlyphs">3.0</text>
<text x="422.75" y="468.35" font-size="12.5" fill="#4a4a4a" text-anchor="middle" textLength="14.42" lengthAdjust="spacingAndGlyphs">2.7</text>
<text x="472.85" y="468.35" font-size="12.5" fill="#4a4a4a" text-anchor="middle" textLength="14.42" lengthAdjust="spacingAndGlyphs">6.1</text>
<text x="519.10" y="468.35" font-size="12.5" fill="#4a4a4a" text-anchor="middle" textLength="14.42" lengthAdjust="spacingAndGlyphs">5.2</text>
<text x="565.40" y="468.35" font-size="12.5" fill="#4a4a4a" text-anchor="middle" textLength="14.42" lengthAdjust="spacingAndGlyphs">3.1</text>
<text x="611.45" y="468.35" font-size="12.5" fill="#4a4a4a" text-anchor="middle" textLength="14.42" lengthAdjust="spacingAndGlyphs">2.7</text>
<text x="657.50" y="468.35" font-size="12.5" fill="#4a4a4a" text-anchor="middle" textLength="14.42" lengthAdjust="spacingAndGlyphs">1.1</text>
<text x="714.25" y="468.35" font-size="12.5" fill="#4a4a4a" text-anchor="middle" textLength="17.88" lengthAdjust="spacingAndGlyphs">-0.8</text>
<text x="760.35" y="468.35" font-size="12.5" fill="#4a4a4a" text-anchor="middle" textLength="14.42" lengthAdjust="spacingAndGlyphs">4.3</text>
<text x="806.55" y="468.35" font-size="12.5" fill="#4a4a4a" text-anchor="middle" textLength="14.42" lengthAdjust="spacingAndGlyphs">4.8</text>
<text x="852.75" y="468.35" font-size="12.5" fill="#4a4a4a" text-anchor="middle" textLength="17.88" lengthAdjust="spacingAndGlyphs">-3.2</text>
<text x="898.90" y="468.35" font-size="12.5" fill="#4a4a4a" text-anchor="middle" textLength="14.42" lengthAdjust="spacingAndGlyphs">2.5</text>
<text x="6.30" y="484.10" font-size="12.5" fill="#5e5e5e" textLength="92.20" lengthAdjust="spacingAndGlyphs">Multi Strategy/ Asset</text>
<text x="144.30" y="484.10" font-size="12.5" fill="#5e5e5e" textLength="169.50" lengthAdjust="spacingAndGlyphs">HFRI Fund Weighted Composite Index</text>
<text x="369.90" y="484.10" font-size="12.5" fill="#4a4a4a" text-anchor="middle" textLength="17.30" lengthAdjust="spacingAndGlyphs">N/A</text>
<text x="422.75" y="484.10" font-size="12.5" fill="#4a4a4a" text-anchor="middle" textLength="14.42" lengthAdjust="spacingAndGlyphs">1.7</text>
<text x="472.85" y="484.10" font-size="12.5" fill="#4a4a4a" text-anchor="middle" textLength="17.88" lengthAdjust="spacingAndGlyphs">-4.0</text>
<text x="519.10" y="484.10" font-size="12.5" fill="#4a4a4a" text-anchor="middle" textLength="17.88" lengthAdjust="spacingAndGlyphs">-3.6</text>
<text x="565.40" y="484.10" font-size="12.5" fill="#4a4a4a" text-anchor="middle" textLength="14.42" lengthAdjust="spacingAndGlyphs">7.0</text>
<text x="611.45" y="484.10" font-size="12.5" fill="#4a4a4a" text-anchor="middle" textLength="14.42" lengthAdjust="spacingAndGlyphs">5.0</text>
<text x="657.50" y="484.10" font-size="12.5" fill="#4a4a4a" text-anchor="middle" textLength="14.42" lengthAdjust="spacingAndGlyphs">4.9</text>
<text x="714.25" y="484.10" font-size="12.5" fill="#4a4a4a" text-anchor="middle" textLength="20.19" lengthAdjust="spacingAndGlyphs">10.2</text>
<text x="760.35" y="484.10" font-size="12.5" fill="#4a4a4a" text-anchor="middle" textLength="19.42" lengthAdjust="spacingAndGlyphs">11.8</text>
<text x="806.55" y="484.10" font-size="12.5" fill="#4a4a4a" text-anchor="middle" textLength="20.19" lengthAdjust="spacingAndGlyphs">10.4</text>
<text x="852.75" y="484.10" font-size="12.5" fill="#4a4a4a" text-anchor="middle" textLength="17.88" lengthAdjust="spacingAndGlyphs">-4.7</text>
<text x="898.90" y="484.10" font-size="12.5" fill="#4a4a4a" text-anchor="middle" textLength="14.42" lengthAdjust="spacingAndGlyphs">8.6</text>
<text x="6.30" y="499.85" font-size="12.5" fill="#5e5e5e" textLength="62.90" lengthAdjust="spacingAndGlyphs">Relative Value</text>
<text x="144.30" y="499.85" font-size="12.5" fill="#5e5e5e" textLength="113.80" lengthAdjust="spacingAndGlyphs">HFRI Relative Value Index</text>
<text x="369.90" y="499.85" font-size="12.5" fill="#4a4a4a" text-anchor="middle" textLength="17.30" lengthAdjust="spacingAndGlyphs">N/A</text>
<text x="422.75" y="499.85" font-size="12.5" fill="#4a4a4a" text-anchor="middle" textLength="14.42" lengthAdjust="spacingAndGlyphs">1.7</text>
<text x="472.85" y="499.85" font-size="12.5" fill="#4a4a4a" text-anchor="middle" textLength="17.88" lengthAdjust="spacingAndGlyphs">-0.5</text>
<text x="519.10" y="499.85" font-size="12.5" fill="#4a4a4a" text-anchor="middle" textLength="17.88" lengthAdjust="spacingAndGlyphs">-0.3</text>
<text x="565.40" y="499.85" font-size="12.5" fill="#4a4a4a" text-anchor="middle" textLength="14.42" lengthAdjust="spacingAndGlyphs">4.1</text>
<text x="611.45" y="499.85" font-size="12.5" fill="#4a4a4a" text-anchor="middle" textLength="14.42" lengthAdjust="spacingAndGlyphs">3.7</text>
<text x="657.50" y="499.85" font-size="12.5" fill="#4a4a4a" text-anchor="middle" textLength="14.42" lengthAdjust="spacingAndGlyphs">4.3</text>
<text x="714.25" y="499.85" font-size="12.5" fill="#4a4a4a" text-anchor="middle" textLength="14.42" lengthAdjust="spacingAndGlyphs">7.6</text>
<text x="760.35" y="499.85" font-size="12.5" fill="#4a4a4a" text-anchor="middle" textLength="14.42" lengthAdjust="spacingAndGlyphs">3.4</text>
<text x="806.55" y="499.85" font-size="12.5" fill="#4a4a4a" text-anchor="middle" textLength="14.42" lengthAdjust="spacingAndGlyphs">7.4</text>
<text x="852.75" y="499.85" font-size="12.5" fill="#4a4a4a" text-anchor="middle" textLength="17.88" lengthAdjust="spacingAndGlyphs">-0.4</text>
<text x="898.90" y="499.85" font-size="12.5" fill="#4a4a4a" text-anchor="middle" textLength="14.42" lengthAdjust="spacingAndGlyphs">5.1</text>
<text x="6.30" y="515.60" font-size="12.5" fill="#474747" textLength="82.90" lengthAdjust="spacingAndGlyphs">Closed-End Funds</text>
<text x="144.30" y="515.60" font-size="12.5" fill="#2e2e2e" textLength="178.60" lengthAdjust="spacingAndGlyphs">S-Network Composite Closed-End Index</text>
<text x="369.90" y="515.60" font-size="12.5" fill="#4a4a4a" text-anchor="middle" textLength="23.65" lengthAdjust="spacingAndGlyphs">-10.6</text>
<text x="422.75" y="515.60" font-size="12.5" fill="#4a4a4a" text-anchor="middle" textLength="17.88" lengthAdjust="spacingAndGlyphs">-5.9</text>
<text x="472.85" y="515.60" font-size="12.5" fill="#4a4a4a" text-anchor="middle" textLength="23.65" lengthAdjust="spacingAndGlyphs">-23.2</text>
<text x="519.10" y="515.60" font-size="12.5" fill="#4a4a4a" text-anchor="middle" textLength="23.65" lengthAdjust="spacingAndGlyphs">-20.9</text>
<text x="565.40" y="515.60" font-size="12.5" fill="#4a4a4a" text-anchor="middle" textLength="17.88" lengthAdjust="spacingAndGlyphs">-0.7</text>
<text x="611.45" y="515.60" font-size="12.5" fill="#4a4a4a" text-anchor="middle" textLength="14.42" lengthAdjust="spacingAndGlyphs">1.5</text>
<text x="657.50" y="515.60" font-size="12.5" fill="#4a4a4a" text-anchor="middle" textLength="14.42" lengthAdjust="spacingAndGlyphs">4.5</text>
<text x="714.25" y="515.60" font-size="12.5" fill="#4a4a4a" text-anchor="middle" textLength="14.42" lengthAdjust="spacingAndGlyphs">7.4</text>
<text x="760.35" y="515.60" font-size="12.5" fill="#4a4a4a" text-anchor="middle" textLength="17.88" lengthAdjust="spacingAndGlyphs">-3.7</text>
<text x="806.55" y="515.60" font-size="12.5" fill="#4a4a4a" text-anchor="middle" textLength="20.19" lengthAdjust="spacingAndGlyphs">15.1</text>
<text x="852.75" y="515.60" font-size="12.5" fill="#4a4a4a" text-anchor="middle" textLength="23.65" lengthAdjust="spacingAndGlyphs">-15.3</text>
<text x="898.90" y="515.60" font-size="12.5" fill="#4a4a4a" text-anchor="middle" textLength="14.42" lengthAdjust="spacingAndGlyphs">6.3</text>
<text x="144.30" y="531.35" font-size="12.5" fill="#5e5e5e" textLength="139.40" lengthAdjust="spacingAndGlyphs">SwissRe Global Cat Bond Index</text>
<text x="369.90" y="531.35" font-size="12.5" fill="#4a4a4a" text-anchor="middle" textLength="17.88" lengthAdjust="spacingAndGlyphs">-8.8</text>
<text x="422.75" y="531.35" font-size="12.5" fill="#4a4a4a" text-anchor="middle" textLength="17.88" lengthAdjust="spacingAndGlyphs">-7.5</text>
<text x="472.85" y="531.35" font-size="12.5" fill="#4a4a4a" text-anchor="middle" textLength="17.88" lengthAdjust="spacingAndGlyphs">-7.8</text>
<text x="519.10" y="531.35" font-size="12.5" fill="#4a4a4a" text-anchor="middle" textLength="17.88" lengthAdjust="spacingAndGlyphs">-6.8</text>
<text x="565.40" y="531.35" font-size="12.5" fill="#4a4a4a" text-anchor="middle" textLength="14.42" lengthAdjust="spacingAndGlyphs">1.1</text>
<text x="611.45" y="531.35" font-size="12.5" fill="#4a4a4a" text-anchor="middle" textLength="14.42" lengthAdjust="spacingAndGlyphs">2.7</text>
<text x="657.50" y="531.35" font-size="12.5" fill="#4a4a4a" text-anchor="middle" textLength="14.42" lengthAdjust="spacingAndGlyphs">4.0</text>
<text x="714.25" y="531.35" font-size="12.5" fill="#4a4a4a" text-anchor="middle" textLength="14.42" lengthAdjust="spacingAndGlyphs">4.9</text>
<text x="760.35" y="531.35" font-size="12.5" fill="#4a4a4a" text-anchor="middle" textLength="14.42" lengthAdjust="spacingAndGlyphs">5.8</text>
<text x="806.55" y="531.35" font-size="12.5" fill="#4a4a4a" text-anchor="middle" textLength="14.42" lengthAdjust="spacingAndGlyphs">4.6</text>
<text x="852.75" y="531.35" font-size="12.5" fill="#4a4a4a" text-anchor="middle" textLength="14.42" lengthAdjust="spacingAndGlyphs">2.5</text>
<text x="898.90" y="531.35" font-size="12.5" fill="#4a4a4a" text-anchor="middle" textLength="14.42" lengthAdjust="spacingAndGlyphs">0.5</text>
<line x1="5.4" y1="439.5" x2="680.7" y2="439.5" stroke="#4a4a4a" stroke-width="1.3"/>
<line x1="691.2" y1="439.5" x2="922" y2="439.5" stroke="#4a4a4a" stroke-width="1.3"/>
<line x1="5.4" y1="455.35" x2="680.7" y2="455.35" stroke="#b0b0b0" stroke-width="1"/>
<line x1="691.2" y1="455.35" x2="922" y2="455.35" stroke="#b0b0b0" stroke-width="1"/>
<line x1="5.4" y1="471.08" x2="680.7" y2="471.08" stroke="#b0b0b0" stroke-width="1"/>
<line x1="691.2" y1="471.08" x2="922" y2="471.08" stroke="#b0b0b0" stroke-width="1"/>
<line x1="5.4" y1="486.81" x2="680.7" y2="486.81" stroke="#b0b0b0" stroke-width="1"/>
<line x1="691.2" y1="486.81" x2="922" y2="486.81" stroke="#b0b0b0" stroke-width="1"/>
<line x1="5.4" y1="502.54" x2="680.7" y2="502.54" stroke="#b0b0b0" stroke-width="1"/>
<line x1="691.2" y1="502.54" x2="922" y2="502.54" stroke="#b0b0b0" stroke-width="1"/>
<line x1="5.4" y1="518.27" x2="680.7" y2="518.27" stroke="#b0b0b0" stroke-width="1"/>
<line x1="691.2" y1="518.27" x2="922" y2="518.27" stroke="#b0b0b0" stroke-width="1"/>
<line x1="5.4" y1="534.00" x2="680.7" y2="534.00" stroke="#b0b0b0" stroke-width="1"/>
<line x1="691.2" y1="534.00" x2="922" y2="534.00" stroke="#b0b0b0" stroke-width="1"/>
<rect x="5.4" y="520.0" width="124.7" height="14.6" fill="#d2ecdb"/>
<text x="6.30" y="531.35" font-size="12.5" fill="#4f6b59" textLength="122.60" lengthAdjust="spacingAndGlyphs">Insurance-Linked Securities</text>
<text x="3.90" y="555.00" font-size="10.75" fill="#999999" textLength="74.70" lengthAdjust="spacingAndGlyphs">Source: Bloomberg</text>
<text x="3.90" y="568.00" font-size="10.75" fill="#999999" textLength="664.80" lengthAdjust="spacingAndGlyphs">Due to reporting lag, Multi Strategy and Relative Value trailing return data in the table above is lagged by 1 month. Returns for periods greater than 1 year are annualized.</text>
<text x="691.80" y="552.40" font-size="12.5" fill="#999999" textLength="9.60" lengthAdjust="spacingAndGlyphs">©</text>
<text x="703.60" y="552.20" font-size="11" fill="#999999" textLength="219.60" lengthAdjust="spacingAndGlyphs">2022 Magnus Financial Group LLC. All Rights Reserved</text>
</svg></body></html>
